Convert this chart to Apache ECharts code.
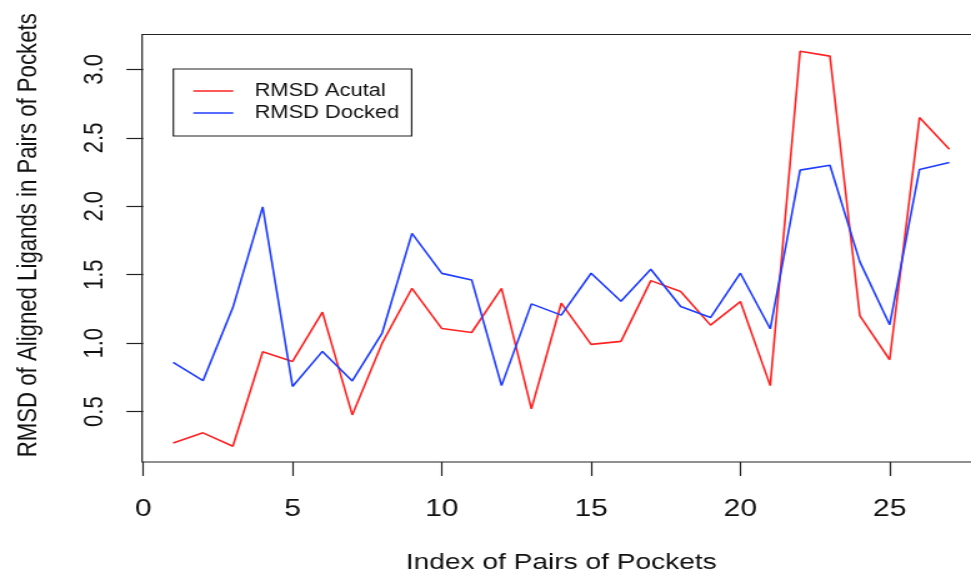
<!DOCTYPE html>
<html>
<head>
<meta charset="utf-8">
<script src="https://cdn.jsdelivr.net/npm/echarts@6/dist/echarts.min.js"></script>
<style>
  html, body { margin: 0; padding: 0; background: #fff; overflow: hidden; width: 971px; height: 574px; }
  #main { width: 786px; height: 574px; transform: scaleX(1.2497); transform-origin: 0 0; }
</style>
</head>
<body>
<div id="main"></div>
<script>
// Data
const pairIndex = [1,2,3,4,5,6,7,8,9,10,11,12,13,14,15,16,17,18,19,20,21,22,23,24,25,26,27];
const rmsdActual = [0.27,0.345,0.247,0.937,0.867,1.227,0.476,1.0,1.401,1.107,1.078,1.401,0.52,1.292,0.991,1.013,1.457,1.377,1.132,1.304,0.69,3.133,3.097,1.202,0.879,2.648,2.417];
const rmsdDocked = [0.859,0.726,1.26,1.996,0.684,0.94,0.724,1.074,1.802,1.51,1.462,0.69,1.287,1.205,1.511,1.307,1.54,1.268,1.187,1.511,1.105,2.264,2.3,1.596,1.134,2.269,2.32];
const xTicks = [0,5,10,15,20,25];
const yTicks = [0.5,1.0,1.5,2.0,2.5,3.0];
const seriesNames = ['RMSD Acutal', 'RMSD Docked'];
const seriesColors = ['#ff2222', '#1f3dff'];
const xTitle = 'Index of Pairs of Pockets';
const yTitle = 'RMSD of Aligned Ligands in Pairs of Pockets';

const chart = echarts.init(document.getElementById('main'), null, { renderer: 'canvas' });
const font = 'Liberation Sans, Arial, Helvetica, sans-serif';
const ink = '#111';

chart.setOption({
  animation: false,
  backgroundColor: '#fff',
  grid: {
    show: true,
    left: 113.7,
    right: 1.5,
    top: 34.5,
    bottom: 112,
    outerBoundsMode: 'none',
    containLabel: false,
    borderColor: '#222',
    borderWidth: 1.2,
    backgroundColor: 'transparent'
  },
  legend: {
    orient: 'vertical',
    left: 138.7,
    top: 69,
    data: seriesNames.map(n => ({ name: n, icon: 'rect' })),
    itemWidth: 32,
    itemHeight: 1.6,
    itemGap: 4,
    borderColor: '#222',
    borderWidth: 1.2,
    padding: [13, 10, 14, 16],
    textStyle: { fontFamily: font, fontSize: 17.5, color: ink, padding: [0, 0, 0, 12] }
  },
  xAxis: {
    type: 'value',
    min: -0.04,
    max: 28.04,
    name: xTitle,
    nameLocation: 'middle',
    nameGap: 89,
    nameTextStyle: { fontFamily: font, fontSize: 22.5, color: ink },
    axisLine: { show: false },
    splitLine: { show: false },
    axisTick: { show: true, inside: false, length: 14, customValues: xTicks, lineStyle: { color: '#222', width: 1.2 } },
    axisLabel: { customValues: xTicks, margin: 35, fontFamily: font, fontSize: 24, color: ink }
  },
  yAxis: {
    type: 'value',
    min: 0.132,
    max: 3.255,
    name: yTitle,
    nameLocation: 'middle',
    nameRotate: 90,
    nameGap: 80,
    nameTextStyle: { fontFamily: font, fontSize: 22.2, color: ink, padding: [0, 0, 0, 26] },
    axisLine: { show: false },
    splitLine: { show: false },
    axisTick: { show: true, inside: false, length: 13.5, customValues: yTicks, lineStyle: { color: '#222', width: 1.2 } },
    axisLabel: {
      customValues: yTicks,
      rotate: 90,
      margin: 27,
      fontFamily: font,
      fontSize: 22,
      color: ink,
      formatter: v => Number(v).toFixed(1)
    }
  },
  series: [
    {
      name: seriesNames[0],
      type: 'line',
      data: pairIndex.map((x, i) => [x, rmsdActual[i]]),
      symbol: 'none',
      showSymbol: false,
      lineStyle: { color: seriesColors[0], width: 1.6 },
      itemStyle: { color: seriesColors[0] }
    },
    {
      name: seriesNames[1],
      type: 'line',
      data: pairIndex.map((x, i) => [x, rmsdDocked[i]]),
      symbol: 'none',
      showSymbol: false,
      lineStyle: { color: seriesColors[1], width: 1.6 },
      itemStyle: { color: seriesColors[1] }
    }
  ]
});
</script>
</body>
</html>
